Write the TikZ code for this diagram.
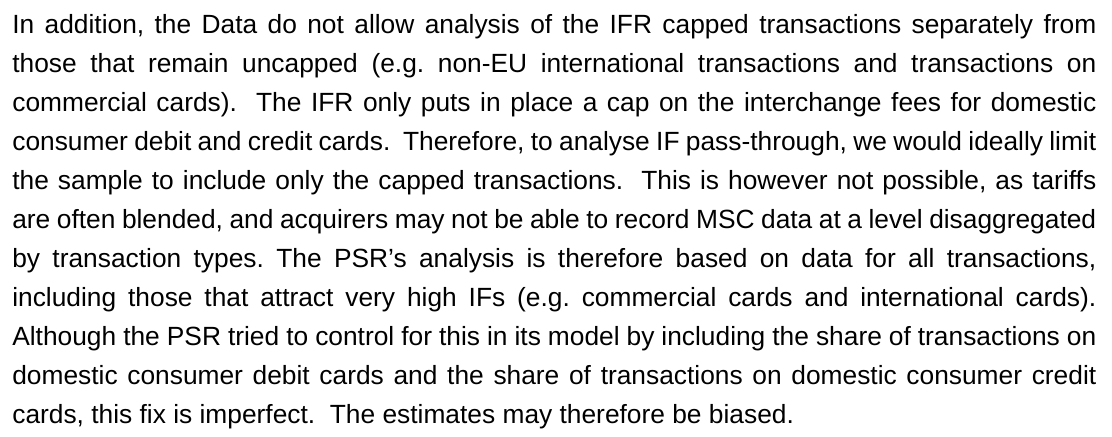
\documentclass[tikz,border=0pt]{standalone}
\usepackage{fontspec}
\setmainfont{Liberation Sans}
\usetikzlibrary{positioning}

\begin{document}
\begin{tikzpicture}[
    x=0.6pt, y=0.6pt,
    bodytext/.style={inner sep=0pt, anchor=north west, text width=650.4pt, align=justify,
        font={\fontsize{15.8pt}{23.4pt}\selectfont},
        execute at begin node={\frenchspacing\spaceskip=0.278em plus 0.5em minus 0.17em
            \hyphenpenalty=10000 \exhyphenpenalty=10000 \tolerance=9999 }}
]
\useasboundingbox (0,0) rectangle (1112,-436);
\node[bodytext] (para) at (12,-14) {In addition, the Data do not allow analysis of the IFR capped transactions separately from\linebreak
those that remain uncapped (e.g. non-EU international transactions and transactions on\linebreak
commercial cards).\ \ The IFR only puts in place a cap on the interchange fees for domestic\linebreak
consumer debit and credit cards.\ \ Therefore, to analyse IF pass-through, we would ideally limit\linebreak
the sample to include only the capped transactions.\ \ This is however not possible, as tariffs\linebreak
are often blended, and acquirers may not be able to record MSC data at a level disaggregated\linebreak
by transaction types. The PSR’s analysis is therefore based on data for all transactions,\linebreak
including those that attract very high IFs (e.g. commercial cards and international cards).\linebreak
Although the PSR tried to control for this in its model by including the share of transactions on\linebreak
domestic consumer debit cards and the share of transactions on domestic consumer credit\linebreak
cards, this fix is imperfect.\ \ The estimates may therefore be biased.};
\end{tikzpicture}
\end{document}
